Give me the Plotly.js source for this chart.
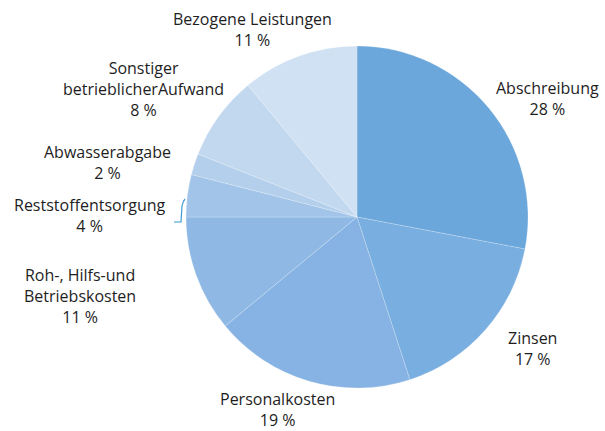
<!DOCTYPE html>
<html>
<head>
<meta charset="utf-8">
<script src="https://cdn.plot.ly/plotly-3.0.1.min.js"></script>
<style>
  html, body { margin: 0; padding: 0; background: #fff; }
  #chart { width: 605px; height: 431px; }
</style>
</head>
<body>
<div id="chart"></div>
<script>
  // cost shares in %, clockwise from 12 o'clock
  const labels = [
    "Abschreibung", "Zinsen", "Personalkosten", "Roh-, Hilfs-und<br>Betriebskosten",
    "Reststoffentsorgung", "Abwasserabgabe", "Sonstiger<br>betrieblicherAufwand", "Bezogene Leistungen"
  ];
  const values = [28, 17, 19, 11, 4, 2, 8, 11];
  const colors = ["#6ba7db", "#79aee0", "#86b3e3", "#8fb9e4", "#a1c4e8", "#b3cfec", "#c2d8ef", "#d0e1f3"];

  // label centres in page pixels
  const labelPx = [[547, 98], [532, 348], [277, 409], [80, 296], [90, 215], [107, 162], [143, 89], [252, 29]];

  const W = 605, H = 431;
  const cx = 357, cy = 217, r = 171;

  const trace = {
    type: "pie",
    values: values,
    labels: labels,
    sort: false,
    direction: "clockwise",
    rotation: 0,
    textinfo: "none",
    hoverinfo: "label+percent",
    showlegend: false,
    marker: { colors: colors, line: { color: "rgba(255,255,255,0.35)", width: 0.6 } },
    domain: {
      x: [(cx - r) / W, (cx + r) / W],
      y: [(H - cy - r) / H, (H - cy + r) / H]
    }
  };

  const annotations = labels.map((l, i) => ({
    text: l + "<br>" + values[i] + " %",
    xref: "paper", yref: "paper",
    x: labelPx[i][0] / W, y: 1 - labelPx[i][1] / H,
    xanchor: "center", yanchor: "middle",
    showarrow: false, align: "center",
    font: { size: 16, color: "#1e1e1e" }
  }));

  // small bracket next to Reststoffentsorgung
  const px = (x) => x / W, py = (y) => 1 - y / H;
  const shapes = [{
    type: "path", xref: "paper", yref: "paper",
    path: `M ${px(174)} ${py(222)} L ${px(181)} ${py(222)} L ${px(182)} ${py(206)} Q ${px(183)} ${py(201)} ${px(185)} ${py(199)}`,
    line: { color: "#3d9ad8", width: 1.2 }
  }];

  const layout = {
    width: W, height: H,
    margin: { l: 0, r: 0, t: 0, b: 0 },
    paper_bgcolor: "#fff",
    font: { family: "'Open Sans', 'DejaVu Sans', sans-serif", color: "#1e1e1e" },
    annotations: annotations,
    shapes: shapes
  };

  Plotly.newPlot("chart", [trace], layout, { displayModeBar: false, staticPlot: true });
</script>
</body>
</html>
